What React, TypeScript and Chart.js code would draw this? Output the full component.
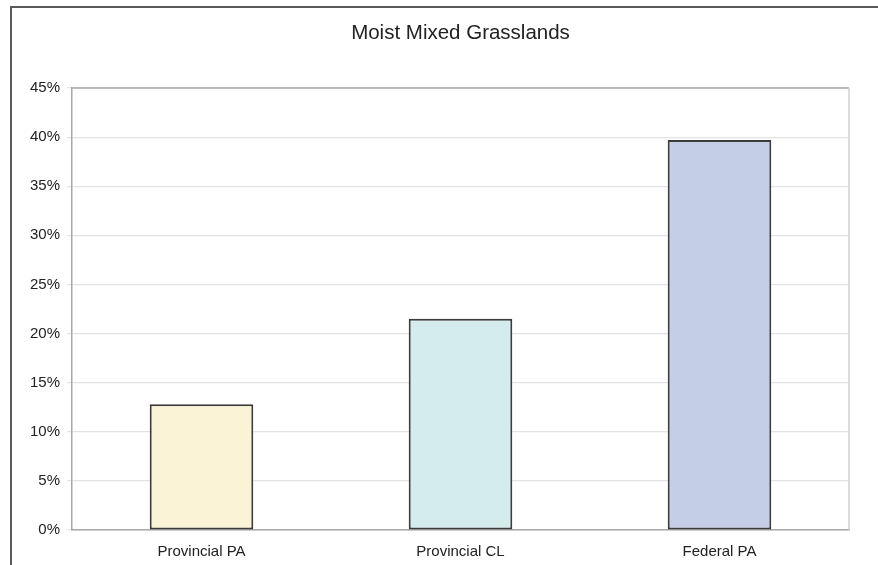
import React, { useEffect, useRef } from "react";
import { Chart, registerables } from "chart.js";

Chart.register(...registerables);

const TITLE = "Moist Mixed Grasslands";
const categories = ["Provincial PA", "Provincial CL", "Federal PA"];
const values = [12.8, 21.5, 39.7];
const barColors = ["#FAF3D5", "#D5ECEF", "#C5CEE7"];
const yMin = 0;
const yMax = 45;
const yStep = 5;

const plotFrame = {
  id: "plotFrame",
  afterDraw(chart: any) {
    const { ctx, chartArea } = chart;
    ctx.save();
    ctx.lineWidth = 1.5;
    ctx.strokeStyle = "#a8a8a8";
    ctx.beginPath();
    ctx.moveTo(chartArea.left, chartArea.top);
    ctx.lineTo(chartArea.right, chartArea.top);
    ctx.stroke();
    ctx.strokeStyle = "#cfcfcf";
    ctx.beginPath();
    ctx.moveTo(chartArea.right, chartArea.top);
    ctx.lineTo(chartArea.right, chartArea.bottom);
    ctx.stroke();
    ctx.restore();
  },
};

export default function App() {
  const ref = useRef<HTMLCanvasElement | null>(null);

  useEffect(() => {
    if (!ref.current) return;
    const chart = new Chart(ref.current, {
      type: "bar",
      data: {
        labels: categories,
        datasets: [
          {
            data: values,
            backgroundColor: barColors,
            borderColor: "#3c3c3c",
            borderWidth: 2,
            borderSkipped: false,
            barPercentage: 0.4,
            categoryPercentage: 1,
          },
        ],
      },
      options: {
        animation: false,
        responsive: false,
        maintainAspectRatio: false,
        devicePixelRatio: 1,
        layout: { padding: { left: 0, right: 29, top: 0, bottom: 4 } },
        plugins: {
          legend: { display: false },
          tooltip: { enabled: false },
          title: {
            display: true,
            fullSize: false,
            text: TITLE,
            color: "#222222",
            font: { family: "'Liberation Sans', Arial, sans-serif", size: 20.5, weight: "normal" },
            padding: { top: 21, bottom: 42.4 },
          },
        },
        scales: {
          x: {
            afterFit(scale: any) {
              scale.height = 31;
            },
            grid: { display: false, drawTicks: false },
            border: { color: "#a8a8a8", width: 1.5 },
            ticks: {
              color: "#222222",
              padding: 13,
              font: { family: "'Liberation Sans', Arial, sans-serif", size: 15 },
            },
          },
          y: {
            min: yMin,
            max: yMax,
            afterFit(scale: any) {
              scale.width = 72;
            },
            grid: { color: "#e3e3e3", lineWidth: 1.2, tickLength: 5 },
            border: { color: "#a8a8a8", width: 1.5 },
            ticks: {
              stepSize: yStep,
              color: "#222222",
              padding: 7,
              font: { family: "'Liberation Sans', Arial, sans-serif", size: 15 },
              callback: (v: any) => v + "%",
            },
          },
        },
      },
      plugins: [plotFrame],
    });
    return () => chart.destroy();
  }, []);

  return (
    <div
      style={{
        position: "fixed",
        left: 0,
        top: 0,
        width: 878,
        height: 565,
        overflow: "hidden",
        background: "#fff",
      }}
    >
      <canvas
        ref={ref}
        width={878}
        height={565}
        style={{ position: "absolute", left: 0, top: 0, width: 878, height: 565 }}
      />
      <div
        style={{
          position: "absolute",
          left: 10,
          top: 6,
          width: 920,
          height: 620,
          border: "2px solid #5a5a5a",
          pointerEvents: "none",
        }}
      />
    </div>
  );
}
